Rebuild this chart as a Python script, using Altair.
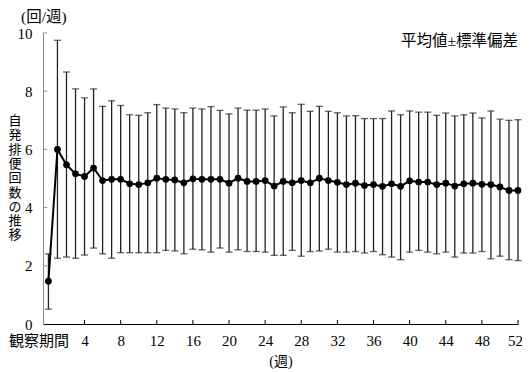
import altair as alt
import pandas as pd

weeks = list(range(53))
mean_vals = [1.47, 6.00, 5.47, 5.16, 5.07, 5.36, 4.93, 4.97, 4.97, 4.82, 4.79, 4.85, 5.01,
             4.97, 4.95, 4.85, 4.99, 4.97, 4.97, 4.97, 4.84, 5.01, 4.90, 4.90, 4.93, 4.74,
             4.90, 4.85, 4.93, 4.85, 5.01, 4.93, 4.87, 4.79, 4.84, 4.76, 4.79, 4.73, 4.82,
             4.73, 4.92, 4.88, 4.88, 4.79, 4.84, 4.74, 4.82, 4.84, 4.80, 4.79, 4.71, 4.59, 4.59]
upper_vals = [2.41, 9.75, 8.66, 8.08, 7.77, 8.08, 7.48, 7.67, 7.51, 7.19, 7.17, 7.26, 7.54,
              7.42, 7.39, 7.26, 7.42, 7.39, 7.47, 7.34, 7.22, 7.42, 7.35, 7.35, 7.39, 7.15,
              7.46, 7.26, 7.55, 7.31, 7.48, 7.31, 7.26, 7.15, 7.16, 7.06, 7.06, 7.06, 7.32,
              7.19, 7.32, 7.28, 7.28, 7.17, 7.25, 7.15, 7.19, 7.25, 7.08, 7.32, 7.04, 7.00, 7.02]
lower_vals = [0.51, 2.26, 2.30, 2.26, 2.37, 2.61, 2.41, 2.26, 2.45, 2.45, 2.45, 2.45, 2.45,
              2.53, 2.51, 2.41, 2.57, 2.55, 2.47, 2.61, 2.47, 2.55, 2.49, 2.49, 2.47, 2.36,
              2.36, 2.53, 2.33, 2.49, 2.51, 2.57, 2.47, 2.47, 2.49, 2.44, 2.49, 2.38, 2.30,
              2.21, 2.47, 2.53, 2.47, 2.41, 2.47, 2.30, 2.44, 2.44, 2.49, 2.24, 2.33, 2.21, 2.18]

x_tick_values = [0, 4, 8, 12, 16, 20, 24, 28, 32, 36, 40, 44, 48, 52]
y_tick_values = [0, 2, 4, 6, 8, 10]
first_label = "観察期間"
y_title = "自発排便回数の推移"
unit_label = "(回/週)"
x_title = "(週)"
note = "平均値±標準偏差"

FONT = "Liberation Serif, Noto Sans CJK JP"

df = pd.DataFrame({"week": weeks, "mean": mean_vals, "upper": upper_vals, "lower": lower_vals})

W = 475
H = 291

xscale = alt.Scale(domain=[-0.6, 52.0], nice=False, zero=False)
yscale = alt.Scale(domain=[0, 10], nice=False)

xaxis = alt.Axis(
    values=x_tick_values,
    title=x_title,
    labelExpr=f"datum.value == 0 ? '{first_label}' : datum.label",
    labelOffset={
        "condition": [
            {"test": "datum.value == 0", "value": -10},
            {"test": "datum.value == 52", "value": -3},
        ],
        "value": 0,
    },
    labelOverlap=False,
    labelBound=False,
    labelFlush=False,
    labelPadding=9,
    titlePadding=6,
    titleFontSize=14,
    domainColor="black",
)
yaxis = alt.Axis(values=y_tick_values, title=None, domainColor="#8a8a8a", labelPadding=11)

X = alt.X("week:Q", scale=xscale, axis=xaxis)
base = alt.Chart(df)

bars = base.mark_rule(color="#222222", strokeWidth=1.3).encode(
    x=X, y=alt.Y("lower:Q", scale=yscale, axis=yaxis), y2="upper:Q"
)
cap_top = base.mark_tick(orient="horizontal", size=7, thickness=1.3, color="#222222").encode(
    x=X, y=alt.Y("upper:Q", scale=yscale, axis=yaxis)
)
cap_bot = base.mark_tick(orient="horizontal", size=7, thickness=1.3, color="#222222").encode(
    x=X, y=alt.Y("lower:Q", scale=yscale, axis=yaxis)
)
line = base.mark_line(color="black", strokeWidth=2).encode(
    x=X, y=alt.Y("mean:Q", scale=yscale, axis=yaxis)
)
points = base.mark_point(filled=True, size=45, color="black", opacity=1).encode(
    x=X, y=alt.Y("mean:Q", scale=yscale, axis=yaxis)
)

ytick_df = pd.DataFrame({"v": y_tick_values[1:]})
ytick = alt.Chart(ytick_df).mark_rule(color="#8a8a8a", strokeWidth=1).encode(
    y=alt.Y("v:Q", scale=yscale, axis=yaxis), x=alt.value(0), x2=alt.value(4)
)
xtick_df = pd.DataFrame({"v": x_tick_values[1:]})
xtick = alt.Chart(xtick_df).mark_rule(color="black", strokeWidth=1).encode(
    x=alt.X("v:Q", scale=xscale, axis=xaxis), y=alt.value(H), y2=alt.value(H - 4)
)

note_txt = alt.Chart(pd.DataFrame({"t": [note]})).mark_text(
    align="right", baseline="middle", fontSize=15.5, font=FONT, color="black"
).encode(x=alt.value(W), y=alt.value(8), text="t:N")

unit_txt = alt.Chart(pd.DataFrame({"t": [unit_label]})).mark_text(
    align="left", baseline="middle", fontSize=15.5, font=FONT, color="black"
).encode(x=alt.value(-22), y=alt.value(-16), text="t:N")

ytitle_txt = alt.Chart(pd.DataFrame({"t": ["\n".join(y_title)]})).mark_text(
    align="center", baseline="middle", fontSize=13, lineHeight=14.3, lineBreak="\n",
    font=FONT, color="black"
).encode(x=alt.value(-28), y=alt.value(88), text="t:N")

chart = alt.layer(
    bars, cap_top, cap_bot, line, points, ytick, xtick, note_txt, unit_txt, ytitle_txt
).properties(
    width=W,
    height=H,
    autosize=alt.AutoSizeParams(type="none"),
    padding={"left": 35, "top": 25, "right": 4, "bottom": 48},
).configure_view(stroke=None).configure_axis(
    grid=False,
    ticks=False,
    labelFont=FONT,
    titleFont=FONT,
    labelFontSize=15,
    labelColor="black",
    titleColor="black",
    titleFontWeight="normal",
)

chart.save("out.html", embed_options={"renderer": "svg", "actions": False})
